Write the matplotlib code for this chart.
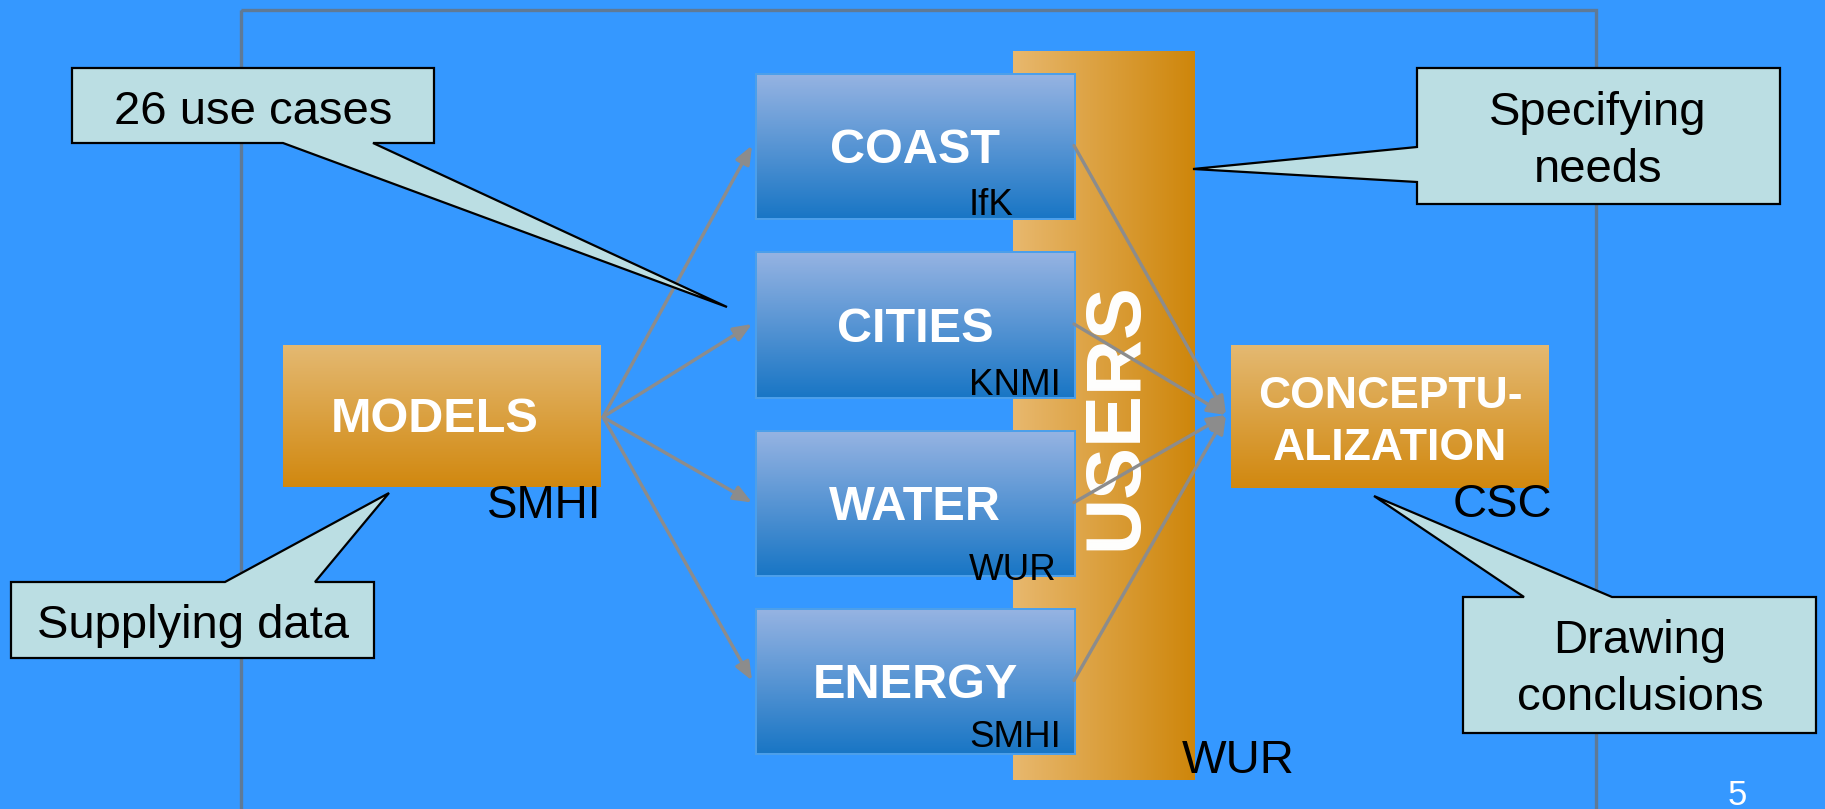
import numpy as np
import matplotlib
matplotlib.use('Agg')
from matplotlib import pyplot as plt
from matplotlib.patches import Polygon, Rectangle
from matplotlib.colors import to_rgb

plt.rcParams['font.family'] = ['Liberation Sans', 'DejaVu Sans']

# diagram content
stream_names = ['COAST', 'CITIES', 'WATER', 'ENERGY']
stream_leads = ['IfK', 'KNMI', 'WUR', 'SMHI']
models_name = 'MODELS'
models_lead = 'SMHI'
concept_lines = ['CONCEPTU-', 'ALIZATION']
concept_lead = 'CSC'
users_name = 'USERS'
users_lead = 'WUR'
callout_texts = [['26 use cases'], ['Specifying', 'needs'],
                 ['Supplying data'], ['Drawing', 'conclusions']]
page_no = '5'

# layout (pixels, origin top-left)
W, H = 1825, 809
bg = '#3598FF'
stream_x = (757, 1074)
stream_y = [(75, 218), (253, 397), (432, 575), (610, 753)]
stream_text_y = [163, 342, 520, 698]
stream_lead_y = [215, 395, 580, 747]
models_box = (283, 345, 601, 487)
concept_box = (1231, 345, 1549, 488)
users_bar = (1013, 51, 1195, 780)

callout_shapes = [
    [(72, 68), (434, 68), (434, 143), (373, 143), (727, 307), (283, 143), (72, 143)],
    [(1417, 68), (1780, 68), (1780, 204), (1417, 204), (1417, 182), (1193, 169), (1417, 147)],
    [(11, 582), (225, 582), (389, 493), (315, 582), (374, 582), (374, 658), (11, 658)],
    [(1463, 597), (1524, 597), (1374, 496), (1612, 597), (1816, 597), (1816, 733), (1463, 733)],
]
callout_text_pos = [(253, [124]), (1598, [125, 182]), (193, [638]), (1640, [653, 710])]

fig = plt.figure(figsize=(W / 100, H / 100), dpi=100, facecolor=bg)
ax = fig.add_axes([0, 0, 1, 1])
ax.set_facecolor(bg)
ax.axis('off')


def gradient(x0, y0, x1, y1, c1, c2, horizontal=False, z=2):
    t = np.linspace(0, 1, 200)
    a, b = np.array(to_rgb(c1)), np.array(to_rgb(c2))
    cols = a[None, :] * (1 - t[:, None]) + b[None, :] * t[:, None]
    img = cols[None, :, :] if horizontal else cols[:, None, :]
    ax.imshow(img, extent=(x0, x1, y1, y0), aspect='auto', zorder=z,
              interpolation='bilinear')


# slide frame
ax.add_patch(Rectangle((241, 10), 1596 - 241, 820, facecolor='none',
                       edgecolor='#5F7A96', lw=2.4, zorder=1))

# users bar
gradient(*users_bar, '#E8B86E', '#CE860B', horizontal=True, z=2)
ax.text((users_bar[0] + users_bar[2]) / 2 + 12, 416, users_name, rotation=90,
        color='white', fontsize=56, fontweight='bold', ha='center',
        va='center', zorder=3)

# stream boxes
for i, name in enumerate(stream_names):
    y0, y1 = stream_y[i]
    ax.add_patch(Rectangle((stream_x[0] - 2, y0 - 2), stream_x[1] - stream_x[0] + 4,
                           y1 - y0 + 4, facecolor='#4C9FEA', edgecolor='none', zorder=3.5))
    gradient(stream_x[0], y0, stream_x[1], y1, '#95B3E2', '#1976C5', z=4)
    ax.text(915, stream_text_y[i], name, color='white', fontsize=35,
            fontweight='bold', ha='center', va='baseline', zorder=5)

# models and conceptualization boxes
gradient(*models_box, '#E4B972', '#D1880F', z=4)
ax.text(435, 432, models_name, color='white', fontsize=35, fontweight='bold',
        ha='center', va='baseline', zorder=5)
gradient(*concept_box, '#E4B972', '#D1880F', z=4)
for line, yb in zip(concept_lines, [408, 460]):
    ax.text(1390, yb, line, color='white', fontsize=32, fontweight='bold',
            ha='center', va='baseline', zorder=5)

# arrows
arrow_kw = dict(arrowstyle='-|>,head_length=1.1,head_width=0.45',
                color='#8C8C8C', lw=2.4, shrinkA=0, shrinkB=0)
for y0, y1 in stream_y:
    ym = (y0 + y1) / 2
    ax.annotate('', xy=(752, ym - 1), xytext=(603, 417),
                arrowprops=arrow_kw, zorder=6)
    ax.annotate('', xy=(1226, 415), xytext=(1074, ym - 1),
                arrowprops=arrow_kw, zorder=6)

# lead institutions
for lead, yb in zip(stream_leads, stream_lead_y):
    ax.text(969, yb, lead, fontsize=26.5, color='black', ha='left',
            va='baseline', zorder=7)
ax.text(487, 518, models_lead, fontsize=33, ha='left', va='baseline', zorder=7)
ax.text(1453, 517, concept_lead, fontsize=34, ha='left', va='baseline', zorder=7)
ax.text(1182, 773, users_lead, fontsize=34, ha='left', va='baseline', zorder=7)

# callouts
for shape, lines, (cx, ybs) in zip(callout_shapes, callout_texts, callout_text_pos):
    ax.add_patch(Polygon(shape, closed=True, facecolor='#BBDEE3',
                         edgecolor='black', lw=1.6, joinstyle='miter', zorder=8))
    for line, yb in zip(lines, ybs):
        ax.text(cx, yb, line, fontsize=34, ha='center', va='baseline', zorder=9)

# page number (sits at the bottom edge of the slide)
ax.text(1737, 805, page_no, fontsize=25, color='white', ha='center',
        va='baseline', zorder=9)

ax.set_xlim(0, W)
ax.set_ylim(H, 0)
fig.savefig('out.png', dpi=100, facecolor=bg)
plt.close()
